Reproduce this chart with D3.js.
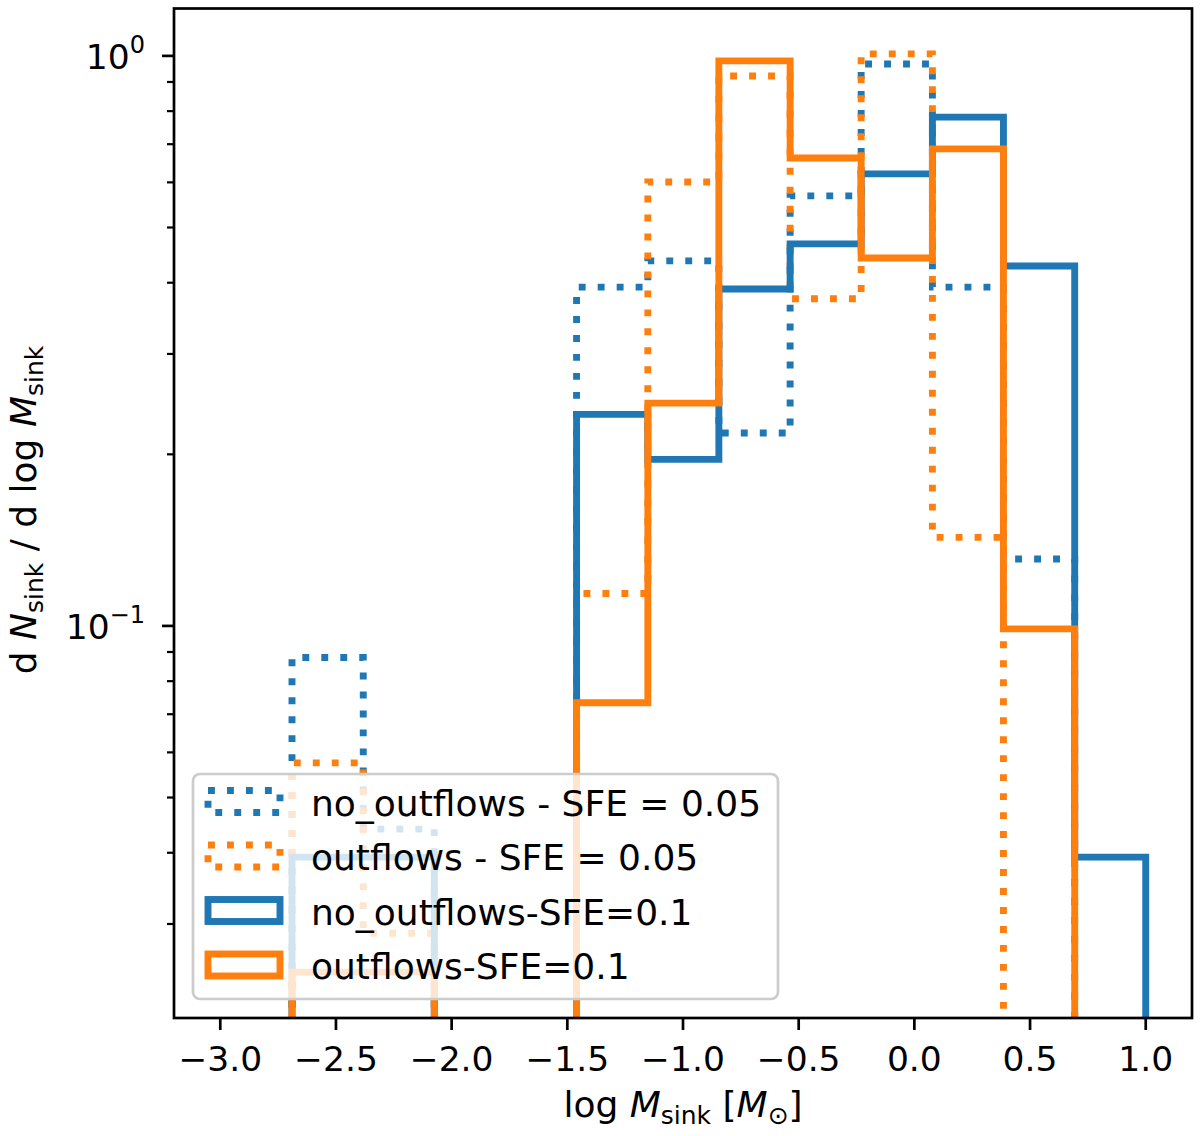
<!DOCTYPE html>
<html>
<head>
<meta charset="utf-8">
<script src="https://cdn.jsdelivr.net/npm/d3@7"></script>
<style>
  html, body { margin: 0; padding: 0; background: #fff; }
  svg { display: block; font-family: "DejaVu Sans", sans-serif; }
</style>
</head>
<body>
<div id="chart"></div>
<script>
// Bin edges in log M_sink (shared by every histogram)
const binEdges = [-2.69, -2.382, -2.075, -1.767, -1.46, -1.152, -0.845, -0.537, -0.23, 0.078, 0.385, 0.693, 1.0];

// dN/dlogM per bin (0 = empty bin)
const noOutflows005 = [0.088, 0.044, 0, 0, 0.393, 0.437, 0.218, 0.568, 0.968, 0.393, 0.131, 0];
const outflows005 = [0.0575, 0.0289, 0, 0, 0.114, 0.601, 0.922, 0.375, 1.008, 0.143, 0, 0];
const noOutflows01 = [0.0393, 0.0393, 0, 0, 0.235, 0.196, 0.39, 0.468, 0.621, 0.781, 0.428, 0.0393];
const outflows01 = [0.0247, 0.0247, 0, 0, 0.0733, 0.246, 0.98, 0.662, 0.442, 0.687, 0.0988, 0];

const seriesNames = ['no_outflows - SFE = 0.05', 'outflows - SFE = 0.05', 'no_outflows-SFE=0.1', 'outflows-SFE=0.1'];
const seriesValues = [noOutflows005, outflows005, noOutflows01, outflows01];
const seriesColors = ['#1f77b4', '#ff7f0e', '#1f77b4', '#ff7f0e'];
const seriesDotted = [true, true, false, false];

const xTicks = [-3.0, -2.5, -2.0, -1.5, -1.0, -0.5, 0.0, 0.5, 1.0];
const yMajorTicks = [1, 0.1];
const yMajorLabels = [['10', '0'], ['10', '\u22121']];
const yMinorTicks = [0.03, 0.04, 0.05, 0.06, 0.07, 0.08, 0.09, 0.2, 0.3, 0.4, 0.5, 0.6, 0.7, 0.8, 0.9];

const width = 1200, height = 1136;
const plot = { left: 174, right: 1192, top: 8.5, bottom: 1018 };
const lw = 6.9;

const svg = d3.select('#chart').append('svg')
  .attr('width', width)
  .attr('height', height);

const x = d3.scaleLinear().domain([-3.2, 1.2]).range([plot.left, plot.right]);
const y = d3.scaleLog().domain([0.02052, 1.211]).range([plot.bottom, plot.top]);

// Clip for the histogram steps
svg.append('defs').append('clipPath')
  .attr('id', 'plotClip')
  .append('rect')
  .attr('x', plot.left)
  .attr('y', plot.top)
  .attr('width', plot.right - plot.left)
  .attr('height', plot.bottom - plot.top);

// Step outline like matplotlib histtype='step'; empty bins drop below the axis
const stepPath = (vals) => {
  const yy = v => y(v > 0 ? v : 1e-4);
  let d = `M${x(binEdges[0])},${yy(0)}`;
  vals.forEach((v, i) => {
    d += `L${x(binEdges[i])},${yy(v)}L${x(binEdges[i + 1])},${yy(v)}`;
  });
  d += `L${x(binEdges[binEdges.length - 1])},${yy(0)}`;
  return d;
};

const g = svg.append('g').attr('clip-path', 'url(#plotClip)');
seriesValues.forEach((vals, i) => {
  g.append('path')
    .attr('d', stepPath(vals))
    .attr('fill', 'none')
    .attr('stroke', seriesColors[i])
    .attr('stroke-width', lw)
    .attr('stroke-linejoin', 'miter')
    .attr('stroke-dasharray', seriesDotted[i] ? `${lw},${lw * 1.75}` : null);
});

// Axes frame
svg.append('rect')
  .attr('x', plot.left)
  .attr('y', plot.top)
  .attr('width', plot.right - plot.left)
  .attr('height', plot.bottom - plot.top)
  .attr('fill', 'none')
  .attr('stroke', '#000')
  .attr('stroke-width', 2.7);

// X ticks and labels
const fmt = d3.format('.1f');
const xt = svg.append('g');
xTicks.forEach(t => {
  xt.append('line')
    .attr('x1', x(t)).attr('x2', x(t))
    .attr('y1', plot.bottom).attr('y2', plot.bottom + 12)
    .attr('stroke', '#000').attr('stroke-width', 2.7);
  xt.append('text')
    .attr('x', x(t))
    .attr('y', 1071)
    .attr('text-anchor', 'middle')
    .attr('font-size', 34.5)
    .text(fmt(t));
});

// Y ticks (log)
const yt = svg.append('g');
yMajorTicks.forEach((t, i) => {
  yt.append('line')
    .attr('x1', plot.left - 12).attr('x2', plot.left)
    .attr('y1', y(t)).attr('y2', y(t))
    .attr('stroke', '#000').attr('stroke-width', 2.7);
  const lab = yt.append('text')
    .attr('x', 145)
    .attr('y', y(t) + 13)
    .attr('text-anchor', 'end')
    .attr('font-size', 34.5);
  lab.append('tspan').text(yMajorLabels[i][0]);
  lab.append('tspan')
    .attr('dy', -16)
    .attr('font-size', 24)
    .text(yMajorLabels[i][1]);
});
yMinorTicks.forEach(t => {
  yt.append('line')
    .attr('x1', plot.left - 7).attr('x2', plot.left)
    .attr('y1', y(t)).attr('y2', y(t))
    .attr('stroke', '#000').attr('stroke-width', 2.2);
});

// Axis labels
const xl = svg.append('text')
  .attr('x', (plot.left + plot.right) / 2)
  .attr('y', 1117)
  .attr('text-anchor', 'middle')
  .attr('font-size', 36);
xl.append('tspan').text('log ');
xl.append('tspan').attr('font-style', 'italic').text('M');
xl.append('tspan').attr('font-size', 25).attr('dy', 7).text('sink');
xl.append('tspan').attr('dy', -7).text(' [');
xl.append('tspan').attr('font-style', 'italic').text('M');
xl.append('tspan').attr('font-size', 25).attr('dy', 7).text('\u2299');
xl.append('tspan').attr('dy', -7).text(']');

const yl = svg.append('text')
  .attr('transform', `translate(36,510) rotate(-90)`)
  .attr('text-anchor', 'middle')
  .attr('font-size', 36);
yl.append('tspan').text('d ');
yl.append('tspan').attr('font-style', 'italic').text('N');
yl.append('tspan').attr('font-size', 25).attr('dy', 7).text('sink');
yl.append('tspan').attr('dy', -7).text(' / d log ');
yl.append('tspan').attr('font-style', 'italic').text('M');
yl.append('tspan').attr('font-size', 25).attr('dy', 7).text('sink');

// Legend
const leg = svg.append('g');
leg.append('rect')
  .attr('x', 193).attr('y', 774)
  .attr('width', 585).attr('height', 225)
  .attr('rx', 7)
  .attr('fill', '#fff').attr('fill-opacity', 0.8)
  .attr('stroke', '#cccccc').attr('stroke-width', 2.7);

seriesNames.forEach((name, i) => {
  const cy = 801.5 + i * 54.5;
  leg.append('rect')
    .attr('x', 208).attr('y', cy - 11)
    .attr('width', 72).attr('height', 22)
    .attr('fill', 'none')
    .attr('stroke', seriesColors[i])
    .attr('stroke-width', lw)
    .attr('stroke-dasharray', seriesDotted[i] ? `${lw},${lw * 1.75}` : null);
  leg.append('text')
    .attr('x', 311)
    .attr('y', cy + 14)
    .attr('font-size', 36)
    .text(name);
});
</script>
</body>
</html>
